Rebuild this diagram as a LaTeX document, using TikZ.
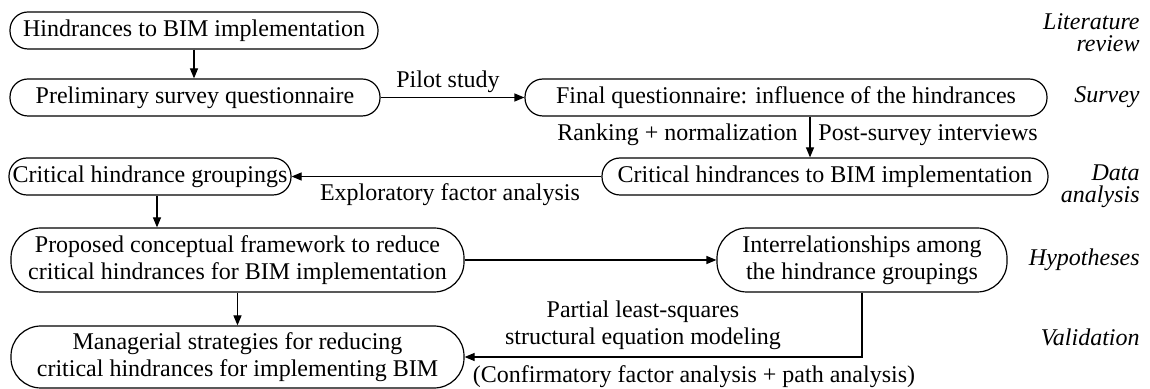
\documentclass[tikz,border=0pt]{standalone}
\usepackage{fontspec}
\setmainfont{Liberation Serif}
\usetikzlibrary{arrows.meta}
\begin{document}
\begin{tikzpicture}[x=0.5pt,y=-0.5pt,
  font=\fontsize{12}{13.5}\selectfont,
  box/.style={draw, line width=0.6pt, rounded corners=9pt, inner sep=0pt, align=center, minimum height=18.5pt},
  tallbox/.style={box, rounded corners=15pt, minimum height=32pt},
  conn/.style={line width=0.6pt, -{Triangle[length=5pt,width=4pt]}},
  lbl/.style={inner sep=0pt, align=center},
  phase/.style={inner sep=0pt, anchor=east, align=right, font=\fontsize{12}{11}\selectfont\itshape}]
\useasboundingbox (0,0) rectangle (1150,389);
% boxes
\node[box, minimum width=184pt] (b1) at (194,30.5) {Hindrances to BIM implementation};
\node[box, minimum width=185pt] (b2) at (195,97.5) {Preliminary survey questionnaire};
\node[box, minimum width=261pt] (b3) at (786,97.5) {Final questionnaire: influence of the hindrances};
\node[box, minimum width=223pt] (b4) at (825,176.5) {Critical hindrances to BIM implementation};
\node[box, minimum width=141pt] (b5) at (150,176.5) {Critical hindrance groupings};
\node[tallbox, minimum width=226.5pt] (b6) at (237.5,260) {Proposed conceptual framework to reduce\\critical hindrances for BIM implementation};
\node[tallbox, minimum width=226.5pt, minimum height=31pt] (b7) at (237.5,357) {Managerial strategies for reducing\\critical hindrances for implementing BIM};
\node[tallbox, minimum width=145pt] (b8) at (862,260) {Interrelationships among\\the hindrance groupings};
% labels
\node[lbl] (pilot) at (448,82) {Pilot study};
\node[lbl, anchor=east] (rank) at (798,135) {Ranking + normalization};
\node[lbl, anchor=west] (post) at (818,135) {Post-survey interviews};
\node[lbl] (efa) at (450,195) {Exploratory factor analysis};
\node[lbl] (pls) at (643,325) {Partial least-squares\\structural equation modeling};
\node[lbl] (cfa) at (694,377) {(Confirmatory factor analysis + path analysis)};
% phases
\node[phase] (p1) at (1140,33) {Literature\\review};
\node[phase] (p2) at (1140,97.5) {Survey};
\node[phase] (p3) at (1140,186) {Data\\analysis};
\node[phase] (p4) at (1140,260) {Hypotheses};
\node[phase] (p5) at (1140,337) {Validation};
% connectors
\draw[conn] (b1.south) -- (b1.south |- b2.north);
\draw[conn] (b2) -- (b3);
\coordinate (c3) at ([xshift=12pt]b3.south);
\draw[conn] (c3) -- (c3 |- b4.north);
\draw[conn] (b4) -- (b5);
\coordinate (c5) at ([xshift=3.5pt]b5.south);
\draw[conn] (c5) -- (c5 |- b6.north);
\draw[conn] (b6) -- (b8);
\draw[conn] (b6) -- (b7);
\draw[conn] (b8.south) |- (b7.east);
\end{tikzpicture}
\end{document}
